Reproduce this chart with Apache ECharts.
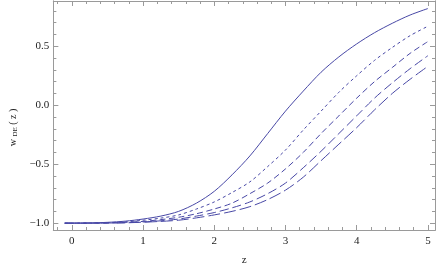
<!DOCTYPE html>
<html><head><meta charset="utf-8">
<script src="https://cdn.jsdelivr.net/npm/echarts@6/dist/echarts.min.js"></script>
<style>html,body{margin:0;padding:0;background:#fff}#c{width:436px;height:271px}</style>
</head><body><div id="c"></div>
<script>
// z grid shared by all curves
var zValues = [-0.1, 0.25, 0.5, 0.75, 1.0, 1.25, 1.5, 1.75, 2.0, 2.25, 2.5, 2.75, 3.0, 3.25, 3.5, 3.75, 4.0, 4.25, 4.5, 4.75, 5.0];
var wSolid  = [-1.0, -0.998, -0.993, -0.983, -0.965, -0.94, -0.90, -0.83, -0.73, -0.59, -0.43, -0.24, -0.05, 0.12, 0.28, 0.41, 0.52, 0.615, 0.695, 0.765, 0.82];
var wDash1  = [-1.0, -0.999, -0.996, -0.989, -0.975, -0.957, -0.93, -0.88, -0.82, -0.74, -0.65, -0.52, -0.38, -0.21, -0.05, 0.11, 0.25, 0.38, 0.49, 0.59, 0.67];
var wDash2  = [-1.0, -0.999, -0.998, -0.993, -0.985, -0.97, -0.95, -0.92, -0.88, -0.83, -0.75, -0.66, -0.54, -0.40, -0.24, -0.09, 0.06, 0.20, 0.32, 0.44, 0.54];
var wDash3  = [-1.0, -1.0, -0.999, -0.996, -0.99, -0.98, -0.965, -0.94, -0.91, -0.87, -0.82, -0.75, -0.66, -0.53, -0.39, -0.24, -0.09, 0.06, 0.19, 0.31, 0.42];
var wDash4  = [-1.0, -1.0, -0.999, -0.997, -0.992, -0.985, -0.975, -0.955, -0.93, -0.90, -0.86, -0.80, -0.72, -0.61, -0.47, -0.33, -0.19, -0.04, 0.10, 0.22, 0.33];
var xMajorTicks = [0, 1, 2, 3, 4, 5];
var yMajorTicks = [-1.0, -0.5, 0.0, 0.5];
var xMinorTicks = [], yMinorTicks = [];
for (var i = -1; i <= 25; i++) { xMinorTicks.push(+(i * 0.2).toFixed(2)); }
for (var j = -10; j <= 8; j++) { yMinorTicks.push(+(j * 0.1).toFixed(2)); }

var lineColor = '#4848a6';
var frameColor = '#9a9a9a';
var xMin = -0.26, xMax = 5.1, yMin = -1.058, yMax = 0.884;

function pairs(ws) { return zValues.map(function (z, k) { return [z, ws[k]]; }); }
function fmtY(v) { var s = Number(v).toFixed(1); return s.replace('-', '\u2212'); }

function xAxisDef(pos, ticks, len, showLabel, extra) {
  var a = {
    type: 'value', gridIndex: 0, position: pos, min: xMin, max: xMax,
    axisLine: { show: true, onZero: false, lineStyle: { color: frameColor, width: 1 } },
    axisTick: { show: true, inside: true, length: len, customValues: ticks, lineStyle: { color: frameColor, width: 1 } },
    axisLabel: { show: showLabel, customValues: ticks, margin: 6, color: '#222', fontFamily: 'Liberation Serif', fontSize: 11 },
    splitLine: { show: false }
  };
  for (var k in extra) a[k] = extra[k];
  return a;
}
function yAxisDef(pos, ticks, len, showLabel, extra) {
  var a = {
    type: 'value', gridIndex: 0, position: pos, min: yMin, max: yMax,
    axisLine: { show: true, onZero: false, lineStyle: { color: frameColor, width: 1 } },
    axisTick: { show: true, inside: true, length: len, customValues: ticks, lineStyle: { color: frameColor, width: 1 } },
    axisLabel: { show: showLabel, customValues: ticks, margin: 4, color: '#222', fontFamily: 'Liberation Serif', fontSize: 11, formatter: fmtY },
    splitLine: { show: false }
  };
  for (var k in extra) a[k] = extra[k];
  return a;
}

var chart = echarts.init(document.getElementById('c'), null, { renderer: 'canvas' });
chart.setOption({
  animation: false,
  backgroundColor: '#ffffff',
  grid: { left: 44, right: 1, top: 1, bottom: 36 },
  xAxis: [
    xAxisDef('bottom', xMajorTicks, 5, true, {
      name: 'z', nameLocation: 'middle', nameGap: 25,
      nameTextStyle: { color: '#222', fontFamily: 'Liberation Serif', fontSize: 11 }
    }),
    xAxisDef('bottom', xMinorTicks, 3, false, {}),
    xAxisDef('top', xMajorTicks, 5, false, {}),
    xAxisDef('top', xMinorTicks, 3, false, {})
  ],
  yAxis: [
    yAxisDef('left', yMajorTicks, 5, true, {
      name: '{a|w }{b|DE}{a| ( z )}', nameLocation: 'middle', nameGap: 29, nameRotate: 90,
      nameTextStyle: {
        color: '#222', fontFamily: 'Liberation Serif', fontSize: 10, padding: [0, 24, 0, 0],
        rich: {
          a: { fontFamily: 'Liberation Serif', fontSize: 10, color: '#222' },
          b: { fontFamily: 'Liberation Serif', fontSize: 7, color: '#222', padding: [4, 0, 0, 0] }
        }
      }
    }),
    yAxisDef('left', yMinorTicks, 3, false, {}),
    yAxisDef('right', yMajorTicks, 5, false, {}),
    yAxisDef('right', yMinorTicks, 3, false, {})
  ],
  series: [
    { type: 'line', data: pairs(wSolid), showSymbol: false, smooth: 0.3, lineStyle: { color: lineColor, width: 1, type: 'solid' } },
    { type: 'line', data: pairs(wDash1), showSymbol: false, smooth: 0.3, lineStyle: { color: lineColor, width: 1, type: [3, 3] } },
    { type: 'line', data: pairs(wDash2), showSymbol: false, smooth: 0.3, lineStyle: { color: lineColor, width: 1, type: [6, 3.5] } },
    { type: 'line', data: pairs(wDash3), showSymbol: false, smooth: 0.3, lineStyle: { color: lineColor, width: 1, type: [9, 4] } },
    { type: 'line', data: pairs(wDash4), showSymbol: false, smooth: 0.3, lineStyle: { color: lineColor, width: 1, type: [12, 4] } }
  ]
});
</script>
</body></html>
